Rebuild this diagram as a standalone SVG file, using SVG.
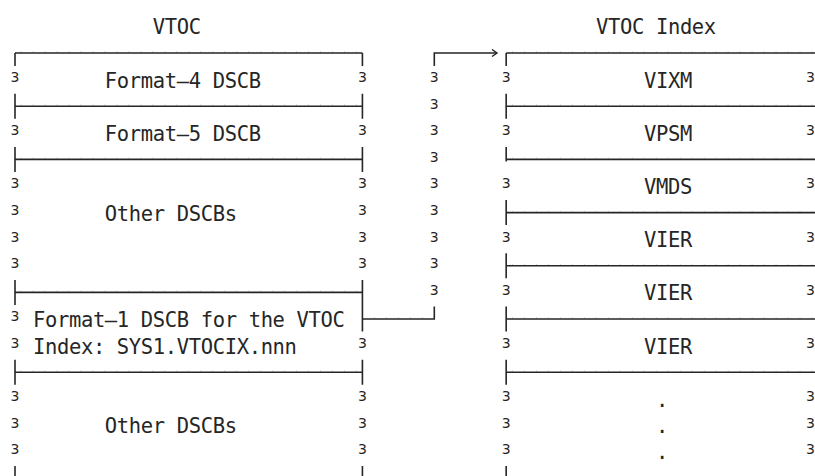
<svg xmlns="http://www.w3.org/2000/svg" width="815" height="476" viewBox="0 0 815 476">
<defs>
<style>
.ln{stroke:#262626;stroke-width:1.6;fill:none}
.tk{stroke:#d6d6d6;stroke-width:1.5;stroke-dasharray:1 10.98;fill:none}
.t{font-family:"DejaVu Sans Mono","Liberation Mono",monospace;font-size:20.5px;letter-spacing:-0.36px;fill:#262626}
.b{font-family:"DejaVu Sans","Liberation Sans",sans-serif;font-size:14px;fill:#262626;text-anchor:middle}
</style>
<marker id="ah" markerWidth="8" markerHeight="8" refX="6" refY="4" orient="auto" markerUnits="userSpaceOnUse">
<path d="M1,0.5 L6,4 L1,7.5" fill="none" stroke="#262626" stroke-width="1.4"/>
</marker>
</defs>
<rect width="815" height="476" fill="#ffffff"/>

<g id="titles">
<text class="t" x="152.76" y="34">VTOC</text>
<text class="t" x="596.02" y="34">VTOC Index</text>
</g>

<g id="vtoc">
<path class="tk" d="M20.5 51.8H362 M20.5 105H362 M20.5 158.2H362 M20.5 291.2H362 M20.5 371H362"/>
<path class="ln" d="M15 53H362.42 M15 106.2H362.42 M15 159.4H362.42 M15 292.4H362.42 M15 372.2H362.42"/>
<path class="ln" d="M15 53V66 M362.42 53V66 M15 93.7V118.7 M362.42 93.7V118.7 M15 146.9V171.9 M362.42 146.9V171.9 M15 279.9V304.9 M362.42 279.9V331.5 M15 359.7V384.7 M362.42 359.7V384.7 M15 466V476 M362.42 466V476"/>
<g class="b">
<text x="15" y="82">3</text><text x="362.42" y="82">3</text>
<text x="15" y="135.2">3</text><text x="362.42" y="135.2">3</text>
<text x="15" y="188.4">3</text><text x="362.42" y="188.4">3</text>
<text x="15" y="215">3</text><text x="362.42" y="215">3</text>
<text x="15" y="241.6">3</text><text x="362.42" y="241.6">3</text>
<text x="15" y="268.2">3</text><text x="362.42" y="268.2">3</text>
<text x="15" y="321.4">3</text>
<text x="15" y="348">3</text><text x="362.42" y="348">3</text>
<text x="15" y="401.2">3</text><text x="362.42" y="401.2">3</text>
<text x="15" y="427.8">3</text><text x="362.42" y="427.8">3</text>
<text x="15" y="454.4">3</text><text x="362.42" y="454.4">3</text>
</g>
<text class="t" x="104.85" y="87.6">Format—4 DSCB</text>
<text class="t" x="104.85" y="140.8">Format—5 DSCB</text>
<text class="t" x="104.85" y="220.6">Other DSCBs</text>
<text class="t" x="32.97" y="327">Format—1 DSCB for the VTOC</text>
<text class="t" x="32.97" y="353.6">Index: SYS1.VTOCIX.nnn</text>
<text class="t" x="104.85" y="433.4">Other DSCBs</text>
</g>

<g id="vtoc-index">
<path class="tk" d="M512 51.8H815 M512 105H815 M512 158.2H815 M512 211.4H815 M512 264.6H815 M512 317.8H815 M512 371H815"/>
<path class="ln" d="M506.18 53H816 M506.18 106.2H816 M506.18 159.4H816 M506.18 212.6H816 M506.18 265.8H816 M506.18 319H816 M506.18 372.2H816"/>
<path class="ln" d="M506.18 53V66 M506.18 93.7V118.7 M506.18 146.9V161.5 M506.18 200.1V225.1 M506.18 253.3V278.3 M506.18 306.5V331.5 M506.18 359.7V384.7 M506.18 466V476"/>
<g class="b">
<text x="506.18" y="82">3</text><text x="810.5" y="82">3</text>
<text x="506.18" y="135.2">3</text><text x="810.5" y="135.2">3</text>
<text x="506.18" y="188.4">3</text><text x="810.5" y="188.4">3</text>
<text x="506.18" y="241.6">3</text><text x="810.5" y="241.6">3</text>
<text x="506.18" y="294.8">3</text><text x="810.5" y="294.8">3</text>
<text x="506.18" y="348">3</text><text x="810.5" y="348">3</text>
<text x="506.18" y="401.2">3</text><text x="810.5" y="401.2">3</text>
<text x="506.18" y="427.8">3</text><text x="810.5" y="427.8">3</text>
<text x="506.18" y="454.4">3</text><text x="810.5" y="454.4">3</text>
</g>
<text class="t" x="643.95" y="87.6">VIXM</text>
<text class="t" x="643.95" y="140.8">VPSM</text>
<text class="t" x="643.95" y="194">VMDS</text>
<text class="t" x="643.95" y="247.2">VIER</text>
<text class="t" x="643.95" y="300.4">VIER</text>
<text class="t" x="643.95" y="353.6">VIER</text>
<text class="t" x="655.93" y="406.7">.</text>
<text class="t" x="655.93" y="433.1">.</text>
<text class="t" x="655.93" y="459.4">.</text>
</g>

<g id="connectors">
<path class="tk" d="M374 317.8H434"/>
<path class="ln" d="M362.42 319H434.3V306.5"/>
<path class="ln" d="M434.3 66V53H497" marker-end="url(#ah)"/>
<g class="b">
<text x="434.3" y="82">3</text>
<text x="434.3" y="108.6">3</text>
<text x="434.3" y="135.2">3</text>
<text x="434.3" y="161.8">3</text>
<text x="434.3" y="188.4">3</text>
<text x="434.3" y="215">3</text>
<text x="434.3" y="241.6">3</text>
<text x="434.3" y="268.2">3</text>
<text x="434.3" y="294.8">3</text>
</g>
</g>
</svg>
